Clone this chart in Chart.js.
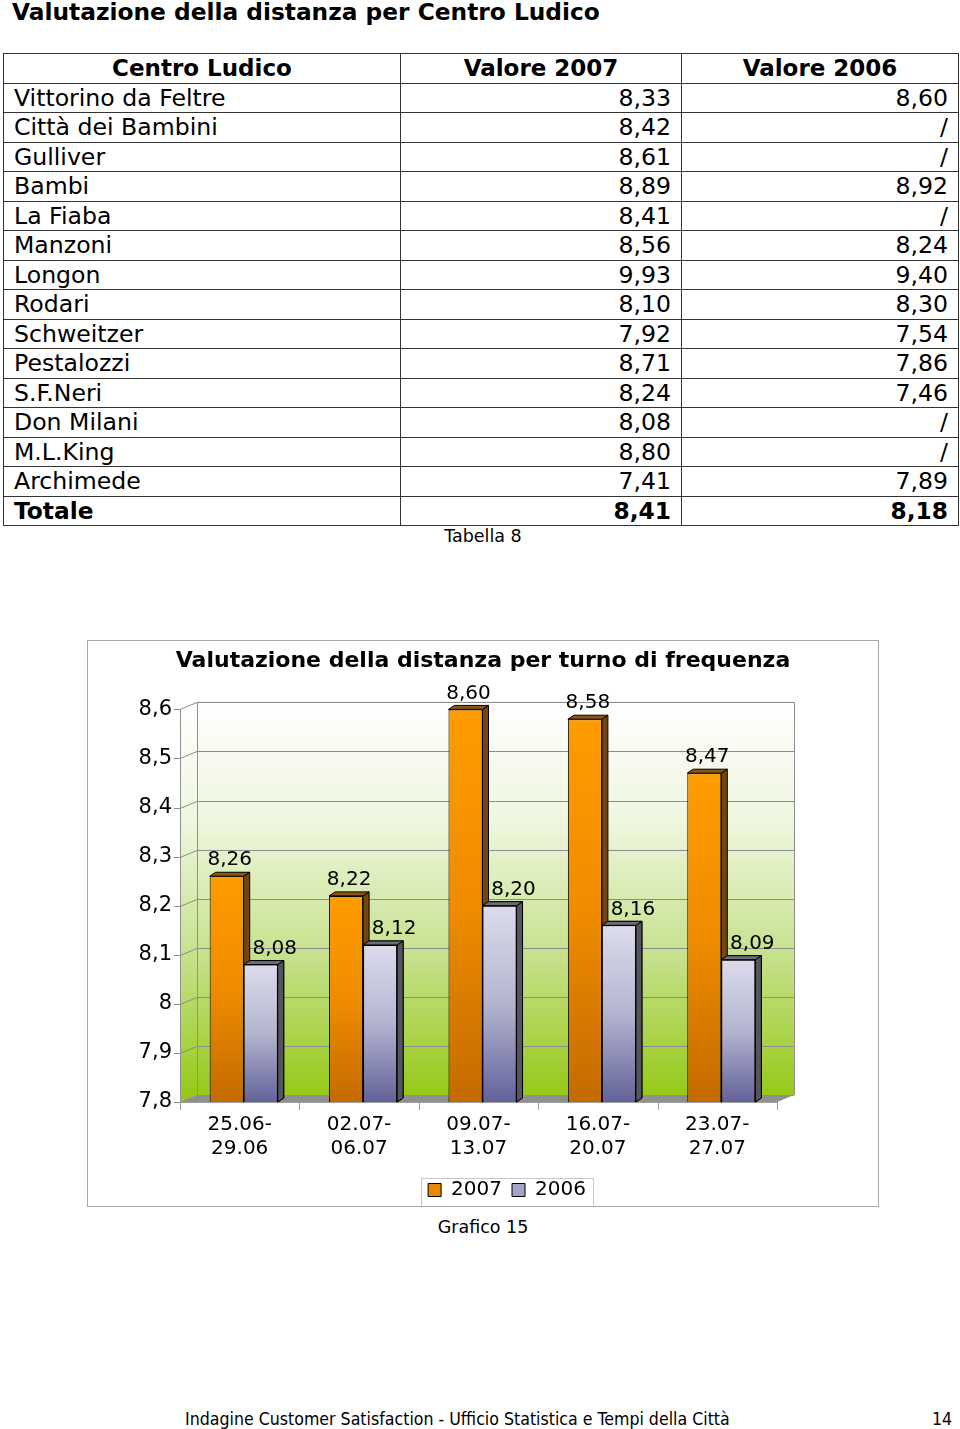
<!DOCTYPE html>
<html lang="it">
<head>
<meta charset="UTF-8">
<title>Valutazione della distanza</title>
<style>
  body {
    margin: 0;
    width: 960px;
    height: 1429px;
    position: relative;
    overflow: hidden;
    background: #fff;
    color: #000;
    font-family: "DejaVu Sans", Verdana, sans-serif;
  }
  h1 {
    position: absolute;
    left: 12px;
    top: -1px;
    margin: 0;
    font-size: 23.3px;
    line-height: 26px;
    font-weight: bold;
  }
  table {
    position: absolute;
    left: 3px;
    top: 53px;
    width: 956px;
    border-collapse: collapse;
    font-size: 23.6px;
  }
  td, th {
    border: 1px solid #333;
    padding: 0 10px;
    line-height: 26px;
  }
  tr { height: 29.5px; }
  th { font-weight: bold; text-align: center; font-size: 23px; }
  td.num { text-align: right; }
  tr.tot td { font-weight: bold; font-size: 23.3px; }
  .caption {
    position: absolute;
    width: 960px;
    left: 3px;
    text-align: center;
    font-size: 17.5px;
  }
  #box {
    position: absolute;
    left: 87px;
    top: 640px;
    width: 790px;
    height: 565px;
    border: 1px solid #a8a8a8;
  }
  .footer {
    position: absolute;
    top: 1409px;
    font-family: "DejaVu Sans Condensed", "DejaVu Sans", sans-serif;
    font-size: 17.6px;
  }
</style>
</head>
<body>
<h1>Valutazione della distanza per Centro Ludico</h1>
<table id="tab"></table>
<div class="caption" style="top:526px">Tabella 8</div>

<div id="box"><canvas id="chart" width="790" height="565"></canvas></div>
<div class="caption" style="top:1217px">Grafico 15</div>

<div class="footer" style="left:185px">Indagine Customer Satisfaction - Ufficio Statistica e Tempi della Città</div>
<div class="footer" style="left:932px">14</div>

<script src="https://cdn.jsdelivr.net/npm/chart.js"></script>
<script>
// table data
const tableHeader = ['Centro Ludico', 'Valore 2007', 'Valore 2006'];
const centri = ['Vittorino da Feltre', 'Città dei Bambini', 'Gulliver', 'Bambi', 'La Fiaba', 'Manzoni',
  'Longon', 'Rodari', 'Schweitzer', 'Pestalozzi', 'S.F.Neri', 'Don Milani', 'M.L.King', 'Archimede'];
const valori2007 = ['8,33', '8,42', '8,61', '8,89', '8,41', '8,56', '9,93', '8,10', '7,92', '8,71', '8,24', '8,08', '8,80', '7,41'];
const valori2006 = ['8,60', '/', '/', '8,92', '/', '8,24', '9,40', '8,30', '7,54', '7,86', '7,46', '/', '/', '7,89'];
const totale = ['Totale', '8,41', '8,18'];

// chart data
const turni = [['25.06-', '29.06'], ['02.07-', '06.07'], ['09.07-', '13.07'], ['16.07-', '20.07'], ['23.07-', '27.07']];
const serie = ['2007', '2006'];
const dati2007 = [8.26, 8.22, 8.60, 8.58, 8.47];
const dati2006 = [8.08, 8.12, 8.20, 8.16, 8.09];
const yTicks = [7.8, 7.9, 8.0, 8.1, 8.2, 8.3, 8.4, 8.5, 8.6];

// build table
const tab = document.getElementById('tab');
let html = '<tr>' + tableHeader.map(h => '<th>' + h + '</th>').join('') + '</tr>';
centri.forEach((c, i) => {
  html += '<tr><td>' + c + '</td><td class="num">' + valori2007[i] + '</td><td class="num">' + valori2006[i] + '</td></tr>';
});
html += '<tr class="tot"><td>' + totale[0] + '</td><td class="num">' + totale[1] + '</td><td class="num">' + totale[2] + '</td></tr>';
tab.innerHTML = html;
const cols = tab.rows[0].cells;
cols[0].style.width = '376px';
cols[1].style.width = '260px';

const DX = 17, DY = 7;      // wall depth
const BX = 6, BY = 4;       // bar depth
const SHIFT = 4;            // bars sit a bit back on the floor
const FONT = '"DejaVu Sans", Verdana, sans-serif';

function fmt(v, d) {
  return v.toFixed(d).replace('.', ',');
}

function barGradient(ctx, stops) {
  const chart = ctx.chart;
  if (!chart.chartArea || !chart.scales.y) return stops[1];
  const y = chart.scales.y;
  const top = y.getPixelForValue(ctx.raw);
  const bottom = y.getPixelForValue(yTicks[0]);
  const g = chart.ctx.createLinearGradient(0, top, 0, bottom);
  g.addColorStop(0, stops[0]);
  g.addColorStop(0.5, stops[1]);
  g.addColorStop(1, stops[2]);
  return g;
}

function draw3d(ctx, meta, index) {
  const side = index === 0 ? '#74450c' : '#55555f';
  const top = index === 0 ? '#8a5414' : '#6c6c78';
  ctx.save();
  ctx.lineWidth = 1;
  ctx.strokeStyle = '#000';
  meta.data.forEach(bar => {
    const { x, y, base, width } = bar.getProps(['x', 'y', 'base', 'width'], true);
    const l = x - width / 2, r = x + width / 2;
    ctx.fillStyle = side;
    ctx.beginPath();
    ctx.moveTo(r, y);
    ctx.lineTo(r + BX, y - BY);
    ctx.lineTo(r + BX, base - BY);
    ctx.lineTo(r, base);
    ctx.closePath();
    ctx.fill();
    ctx.stroke();
    ctx.fillStyle = top;
    ctx.beginPath();
    ctx.moveTo(l, y);
    ctx.lineTo(l + BX, y - BY);
    ctx.lineTo(r + BX, y - BY);
    ctx.lineTo(r, y);
    ctx.closePath();
    ctx.fill();
    ctx.stroke();
  });
  ctx.restore();
}

const walls = {
  id: 'walls',
  afterLayout(chart) {
    // legend sits right of centre and low in the frame, like the original
    const lg = chart.legend;
    lg.left += 24; lg.right += 24; lg.top += 4; lg.bottom += 4;
    lg.legendHitBoxes.forEach(b => { b.left += 24; b.top += 4; });
  },
  beforeDatasetsDraw(chart) {
    const { ctx, chartArea: a, scales } = chart;
    const y = scales.y;
    ctx.save();
    const g = ctx.createLinearGradient(0, a.top - DY, 0, a.bottom);
    g.addColorStop(0, '#ffffff');
    g.addColorStop(0.3, '#eef6de');
    g.addColorStop(0.65, '#c4e088');
    g.addColorStop(1, '#94c812');
    ctx.fillStyle = g;
    // side wall
    ctx.beginPath();
    ctx.moveTo(a.left, a.top);
    ctx.lineTo(a.left + DX, a.top - DY);
    ctx.lineTo(a.left + DX, a.bottom - DY);
    ctx.lineTo(a.left, a.bottom);
    ctx.closePath();
    ctx.fill();
    // back wall
    ctx.fillRect(a.left + DX, a.top - DY, a.right - a.left, a.bottom - a.top);
    // grid lines
    ctx.lineWidth = 1;
    ctx.strokeStyle = '#8c8c8c';
    yTicks.forEach(v => {
      const py = Math.round(y.getPixelForValue(v)) + 0.5;
      ctx.beginPath();
      ctx.moveTo(a.left - 6, py);
      ctx.lineTo(a.left, py);
      ctx.lineTo(a.left + DX, py - DY);
      ctx.lineTo(a.right + DX, py - DY);
      ctx.stroke();
    });
    // wall outline
    ctx.strokeStyle = '#909090';
    ctx.beginPath();
    ctx.moveTo(a.left + 0.5, a.top);
    ctx.lineTo(a.left + 0.5, a.bottom);
    ctx.moveTo(a.left + DX + 0.5, a.bottom - DY);
    ctx.lineTo(a.left + DX + 0.5, a.top - DY);
    ctx.lineTo(a.right + DX + 0.5, a.top - DY);
    ctx.lineTo(a.right + DX + 0.5, a.bottom - DY);
    ctx.stroke();
    // floor
    ctx.fillStyle = '#8f8f8f';
    ctx.beginPath();
    ctx.moveTo(a.left, a.bottom);
    ctx.lineTo(a.left + DX, a.bottom - DY);
    ctx.lineTo(a.right + DX, a.bottom - DY);
    ctx.lineTo(a.right, a.bottom);
    ctx.closePath();
    ctx.fill();
    ctx.strokeStyle = '#a0a0a0';
    ctx.beginPath();
    ctx.moveTo(a.left, a.bottom + 0.5);
    ctx.lineTo(a.right, a.bottom + 0.5);
    const cw = (a.right - a.left) / turni.length;
    for (let i = 0; i <= turni.length; i++) {
      const px = Math.round(a.left + i * cw) + 0.5;
      ctx.moveTo(px, a.bottom);
      ctx.lineTo(px, a.bottom + 8);
    }
    ctx.stroke();
    ctx.restore();
    // bars are drawn shifted back on the floor
    ctx.save();
    ctx.translate(SHIFT, 0);
  },
  afterDatasetDraw(chart, args) {
    draw3d(chart.ctx, args.meta, args.index);
  },
  afterDatasetsDraw(chart) {
    const { ctx } = chart;
    // 2006 bars stand in front of the 2007 side faces
    const meta06 = chart.getDatasetMeta(1);
    meta06.data.forEach(el => el.draw(ctx, chart.chartArea));
    draw3d(ctx, meta06, 1);
    ctx.restore();

    ctx.save();
    ctx.font = '20px ' + FONT;
    ctx.fillStyle = '#000';
    ctx.textAlign = 'center';
    ctx.textBaseline = 'middle';
    chart.data.datasets.forEach((ds, di) => {
      chart.getDatasetMeta(di).data.forEach((bar, i) => {
        const off = di === 0 ? 3 + SHIFT : 14 + SHIFT;
        ctx.fillText(fmt(ds.data[i], 2), bar.x + off, bar.y - 16);
      });
    });
    ctx.restore();
  },
  afterDraw(chart) {
    const boxes = chart.legend.legendHitBoxes;
    if (!boxes || !boxes.length) return;
    const l = Math.min(...boxes.map(b => b.left)) - 7;
    const r = Math.max(...boxes.map(b => b.left + b.width)) + 7;
    const t = boxes[0].top - 6;
    const ctx = chart.ctx;
    ctx.save();
    ctx.strokeStyle = '#c8c8c8';
    ctx.lineWidth = 1;
    ctx.strokeRect(Math.round(l) + 0.5, Math.round(t) + 0.5, Math.round(r - l), 30);
    ctx.restore();
  }
};

new Chart(document.getElementById('chart'), {
  type: 'bar',
  data: {
    labels: turni,
    datasets: [
      {
        label: serie[0],
        data: dati2007,
        backgroundColor: c => barGradient(c, ['#ff9c00', '#ef8c00', '#c46a00']),
        borderColor: '#000',
        borderWidth: 1,
        borderSkipped: 'start',
        base: yTicks[0]
      },
      {
        label: serie[1],
        data: dati2006,
        backgroundColor: c => barGradient(c, ['#dcdcec', '#b4b4d0', '#62629a']),
        borderColor: '#000',
        borderWidth: 1,
        borderSkipped: 'start',
        base: yTicks[0]
      }
    ]
  },
  options: {
    responsive: false,
    animation: false,
    layout: { padding: 0 },
    datasets: { bar: { categoryPercentage: 0.57, barPercentage: 1 } },
    scales: {
      x: {
        grid: { display: false, drawTicks: false },
        border: { display: false },
        ticks: {
          font: { size: 20, family: FONT },
          color: '#000',
          padding: 11,
          maxRotation: 0,
          autoSkip: false
        },
        afterFit: s => { s.height = 64; }
      },
      y: {
        min: yTicks[0],
        max: yTicks[yTicks.length - 1],
        grid: { display: false, drawTicks: false },
        border: { display: false },
        afterBuildTicks: s => { s.ticks = yTicks.map(v => ({ value: v })); },
        ticks: {
          font: { size: 21, family: FONT },
          color: '#000',
          padding: 8,
          callback: v => String(v).replace('.', ',')
        },
        afterFit: s => { s.width = 92; }
      },
      // empty right-hand strip, keeps room for the 3D walls
      y2: {
        position: 'right',
        grid: { display: false, drawTicks: false },
        border: { display: false },
        ticks: { display: false },
        afterFit: s => { s.width = 101; }
      }
    },
    plugins: {
      title: {
        display: true,
        text: 'Valutazione della distanza per turno di frequenza',
        color: '#000',
        font: { size: 22, weight: 'bold', family: FONT },
        padding: { top: 7, bottom: 35 }
      },
      legend: {
        position: 'bottom',
        labels: {
          font: { size: 20, family: FONT },
          color: '#000',
          boxWidth: 13,
          boxHeight: 13,
          padding: 10,
          generateLabels: () => serie.map((s, i) => ({
            text: s,
            fillStyle: i === 0 ? '#e88a00' : '#a4a4c8',
            strokeStyle: '#000',
            lineWidth: 1,
            datasetIndex: i,
            hidden: false
          }))
        }
      },
      tooltip: { enabled: false }
    }
  },
  plugins: [walls]
});
</script>
</body>
</html>
